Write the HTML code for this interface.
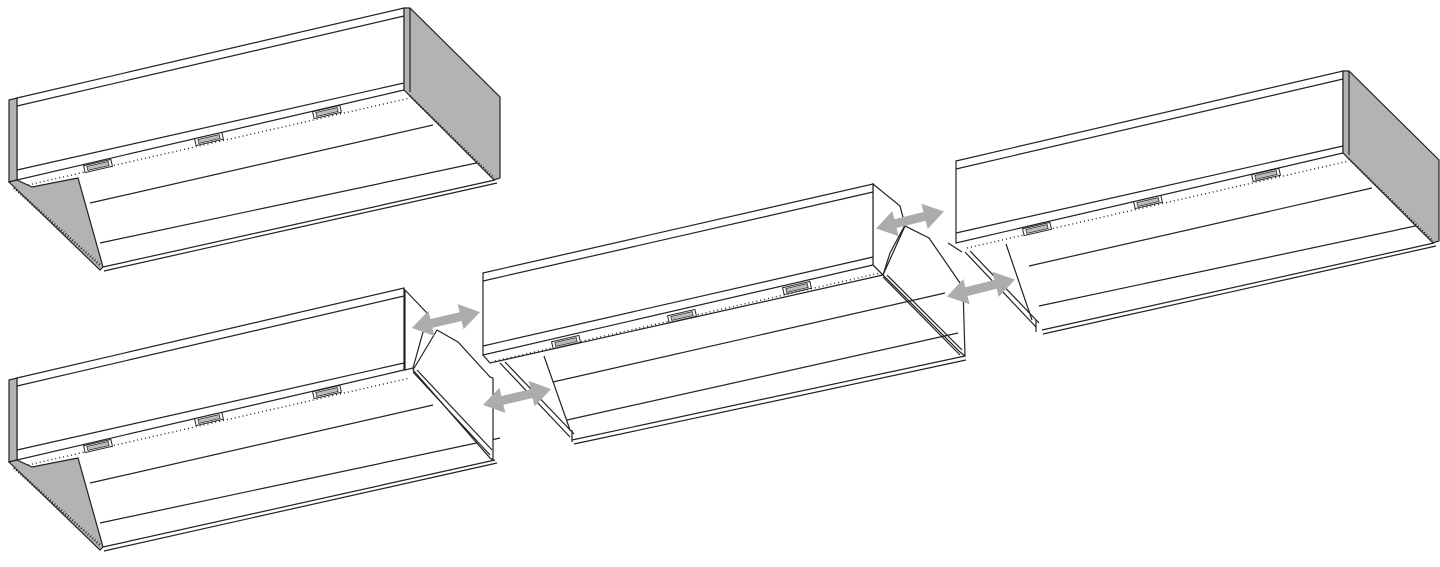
<!DOCTYPE html>
<html><head><meta charset="utf-8"><style>html,body{margin:0;padding:0;background:#fff}svg{display:block}</style></head>
<body>
<svg width="1440" height="567" viewBox="0 0 1440 567" xmlns="http://www.w3.org/2000/svg">
<defs>
<g id="vent"><rect x="-14" y="-3.5" width="28" height="7" fill="#fff" stroke="#222" stroke-width="1"/><rect x="-11" y="-2" width="22" height="4" fill="#bbb" stroke="#222" stroke-width="0.7"/></g>
<polygon id="arr" points="-35,0 -15,-13 -15,-4.5 15,-4.5 15,-13 35,0 15,13 15,4.5 -15,4.5 -15,13" fill="#acacac"/>
<g id="body" fill="none" stroke="#222" stroke-width="1.2">
 <polygon points="17,98 404,8 404,90 17,180" fill="#fff"/>
 <line x1="17" y1="106" x2="404" y2="16"/>
 <line x1="17" y1="170" x2="404" y2="83"/>
 <line x1="28" y1="185" x2="410" y2="98" stroke-dasharray="1 3" stroke-width="1.4"/>
 <line x1="90" y1="203" x2="433" y2="125"/>
 <line x1="100" y1="243" x2="500" y2="158"/>
 <line x1="103" y1="267" x2="495" y2="180"/>
 <line x1="104" y1="271" x2="497" y2="183"/>
 <use href="#vent" transform="translate(98,166) rotate(-13)"/>
 <use href="#vent" transform="translate(209,139) rotate(-13)"/>
 <use href="#vent" transform="translate(327,112) rotate(-13)"/>
</g>
<g id="rgray" stroke="#222" stroke-width="1.2">
 <polygon points="404,8 410,8 500,97 500,178 494,180 404,90" fill="#b3b3b3"/>
 <line x1="410" y1="8" x2="410" y2="92"/>
 <line x1="410" y1="96" x2="494" y2="178" stroke-dasharray="1 2" stroke-width="2"/>
</g>
<g id="lgray" stroke="#222" stroke-width="1.2">
 <polygon points="9,100 17,98 17,180 9,182" fill="#b3b3b3"/>
 <polygon points="9,182 17,180 32,187 78,178 103,267 100,270" fill="#b3b3b3"/>
 <line x1="14" y1="188" x2="100" y2="265" stroke-dasharray="1 2" stroke-width="2.5"/>
</g>
</defs>

<!-- Hood 1 -->
<use href="#body"/><use href="#rgray"/><use href="#lgray"/>

<!-- Hood 2 -->
<g transform="translate(0,280)"><use href="#body"/><use href="#lgray"/></g>
<g fill="none" stroke="#222" stroke-width="1.2">
 <polygon points="405,290 428,314 413,368 405,370" fill="#fff"/>
 <polygon points="413,370 437,330 458,342 490,377 493,378 493,460 490,458" fill="#fff"/>
 <line x1="413" y1="372" x2="490" y2="455"/>
 <line x1="417" y1="370" x2="492" y2="450"/>
</g>

<!-- Center hood -->
<g fill="none" stroke="#222" stroke-width="1.2">
 <polygon points="873,184 900,206 905,225 890,253 883,275 873,265" fill="#fff"/>
 <polygon points="883,275 905,226 929,238 960,283 963,288 965,356 960,352" fill="#fff"/>
 <polygon points="483,273 873,184 873,265 483,355" fill="#fff"/>
 <line x1="483" y1="281" x2="873" y2="192"/>
 <line x1="483" y1="346" x2="873" y2="257"/>
 <polyline points="483,355 490,363 883,275 873,265"/>
 <line x1="495" y1="361" x2="880" y2="273" stroke-dasharray="1 3" stroke-width="1.4"/>
 <line x1="553" y1="382" x2="945" y2="293"/>
 <line x1="567" y1="420" x2="958" y2="333"/>
 <line x1="544" y1="356" x2="570" y2="430"/>
 <line x1="500" y1="363" x2="570" y2="437"/>
 <line x1="505" y1="362" x2="574" y2="434"/>
 <line x1="572" y1="440" x2="965" y2="356"/>
 <line x1="574" y1="444" x2="966" y2="360"/>
 <line x1="572" y1="430" x2="572" y2="442"/>
 <line x1="883" y1="277" x2="960" y2="355"/>
 <line x1="887" y1="275" x2="962" y2="350"/>
 <use href="#vent" transform="translate(566,342) rotate(-13)"/>
 <use href="#vent" transform="translate(682,316) rotate(-13)"/>
 <use href="#vent" transform="translate(797,288) rotate(-13)"/>
</g>

<!-- Hood 4 -->
<g transform="translate(939,63)"><use href="#body"/><use href="#rgray"/></g>
<g fill="none" stroke="#222" stroke-width="1.2">
 <line x1="948" y1="243" x2="962" y2="252"/>
 <line x1="1006" y1="244" x2="1032" y2="320"/>
 <line x1="965" y1="252" x2="1036" y2="327"/>
 <line x1="970" y1="251" x2="1039" y2="323"/>
 <line x1="1036" y1="320" x2="1036" y2="332"/>
</g>

<!-- arrows -->
<use href="#arr" transform="translate(446,320) rotate(-13)"/>
<use href="#arr" transform="translate(517,397) rotate(-13)"/>
<use href="#arr" transform="translate(910,220) rotate(-14)"/>
<use href="#arr" transform="translate(981,288) rotate(-14)"/>
</svg>
</body></html>
